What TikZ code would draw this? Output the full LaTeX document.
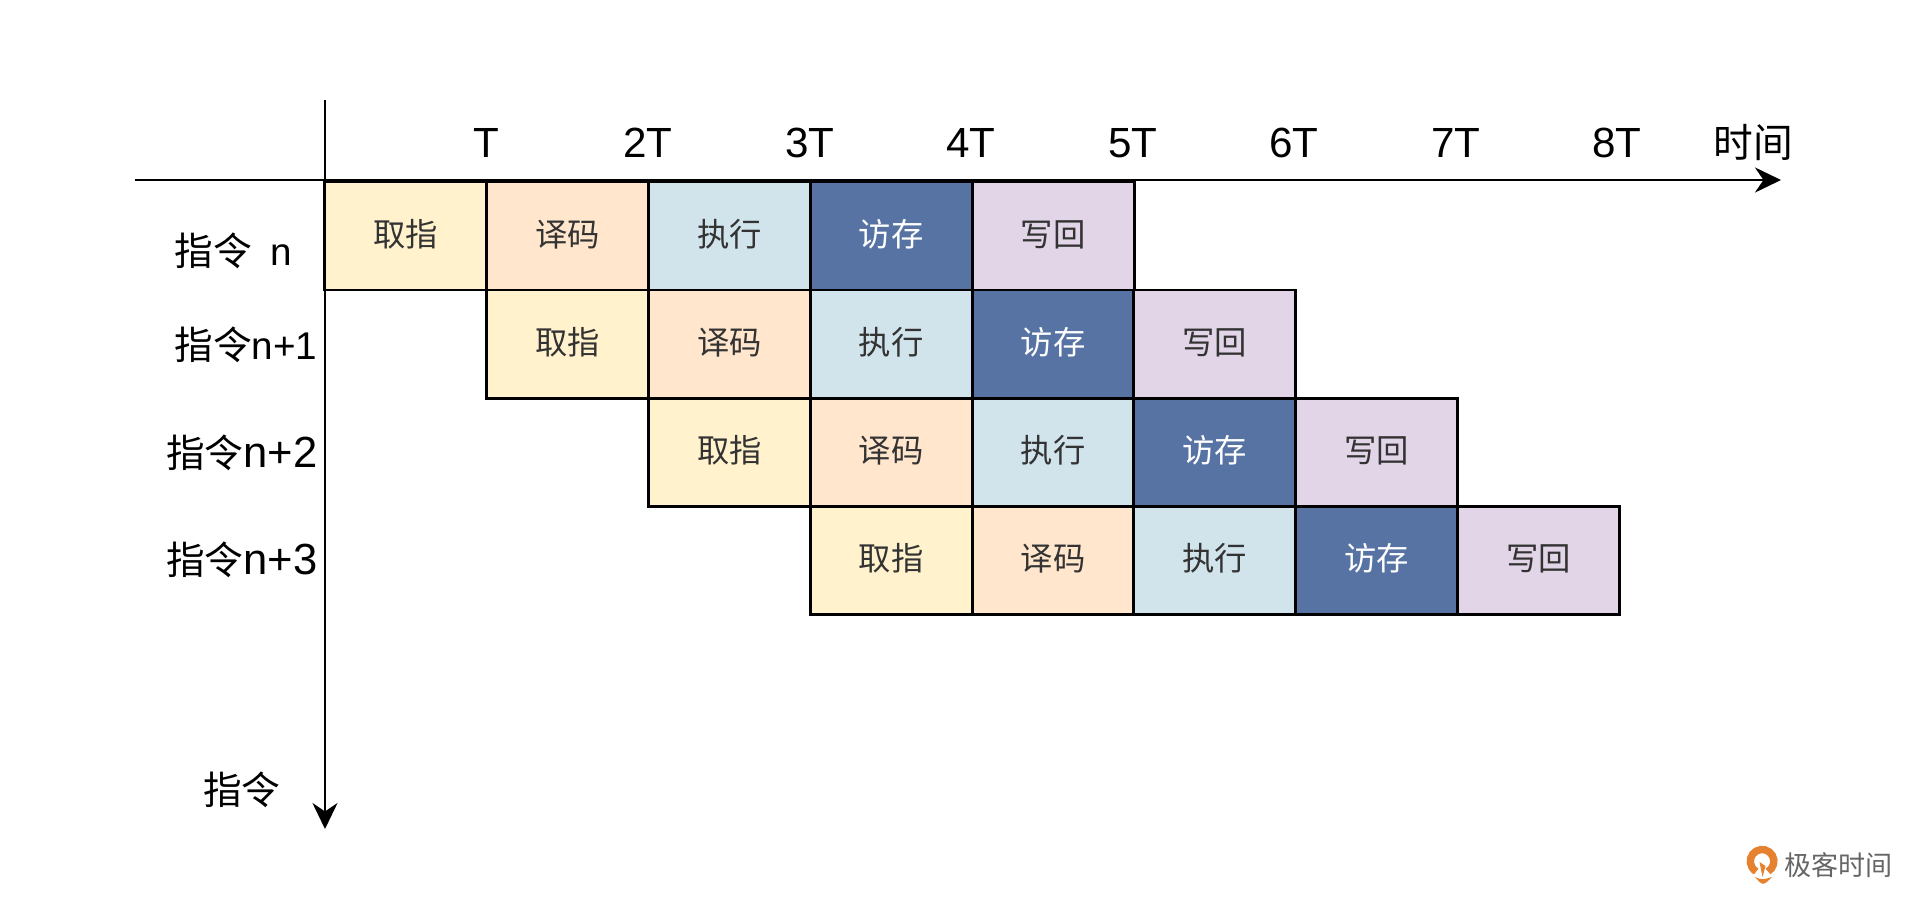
\documentclass[tikz,border=0pt]{standalone}
\usepackage{fontspec}
\setmainfont{Liberation Sans}
\newfontfamily\cjk{Noto Sans CJK SC}
\usetikzlibrary{arrows.meta,calc,positioning}
\definecolor{gkfetch}{HTML}{FFF2CC}
\definecolor{gkdecode}{HTML}{FFE6CC}
\definecolor{gkexec}{HTML}{D1E3EB}
\definecolor{gkmem}{HTML}{5773A3}
\definecolor{gkwrite}{HTML}{E1D5E7}
\definecolor{gkink}{HTML}{333333}
\definecolor{gkorange}{HTML}{E5812F}
\definecolor{gkquiet}{HTML}{666666}
\tikzset{
  every picture/.style={font=\fontsize{11}{13}\selectfont,text=black},
  stage/.style={draw=black,line width=0.85pt,minimum width=1.62cm,minimum height=1.08cm,
    inner sep=0pt,text height=8pt,text depth=2pt,text=gkink,font=\cjk\fontsize{9.2}{10}\selectfont},
  stage0/.style={stage,fill=gkfetch},
  stage1/.style={stage,fill=gkdecode},
  stage2/.style={stage,fill=gkexec},
  stage3/.style={stage,fill=gkmem,text=white},
  stage4/.style={stage,fill=gkwrite},
  axis/.style={draw=black,line width=0.75pt,-{Stealth[length=2.6mm,width=2.5mm]}},
  tick label/.style={inner sep=0pt,font=\fontsize{12}{13}\selectfont},
  row label/.style={inner sep=0pt,font=\cjk\fontsize{11}{13}\selectfont},
}

\begin{document}
\begin{tikzpicture}[x=1cm,y=1cm]
  \path[use as bounding box] (-3.25,-7.25) rectangle (15.95,1.81);
  % axes
  \coordinate (xstart) at (-1.9,0.01);
  \coordinate (xend) at (14.56,0.01);
  \coordinate (ystart) at (0,0.81);
  \coordinate (yend) at (0,-6.48);
  % one row per instruction, each starting one slot later
  \foreach \r in {0,1,2,3} {
    \foreach \s/\stext in {0/取指,1/译码,2/执行,3/访存,4/写回} {
      \pgfmathsetmacro{\cx}{1.618*(\r+\s+0.5)}
      \pgfmathsetmacro{\cy}{-0.01-1.08*(\r+0.5)}
      \node[stage\s] (c\r\s) at (\cx,\cy) {\stext};
    }
  }
  \draw[axis] (xstart) -- (xend);
  \draw[axis] (ystart) -- (yend);
  \foreach \i/\ttext/\tx in {1/T/1.61,2/2T/3.23,3/3T/4.85,4/4T/6.46,5/5T/8.08,6/6T/9.69,7/7T/11.31,8/8T/12.92} {
    \node[tick label] (t\i) at (\tx,0.38) {\ttext};
  }
  \node[row label,font=\cjk\fontsize{11.3}{13}\selectfont] (tlabel) at (14.28,0.38) {时间};
  \node[row label,anchor=west] (r0) at (-1.51,-0.7) {指令\hspace{0.18cm}{\rmfamily n}};
  \node[row label,anchor=east] (r1) at (-0.07,-1.64) {指令{\rmfamily n+1}};
  \node[row label,anchor=east] (r2) at (-0.07,-2.72) {指令{\rmfamily\fontsize{12.4}{13}\selectfont n+2}};
  \node[row label,anchor=east] (r3) at (-0.07,-3.79) {指令{\rmfamily\fontsize{12.4}{13}\selectfont n+3}};
  \node[row label] (ylabel) at (-0.83,-6.09) {指令};
  % logo
  \draw[gkorange,line width=2.1pt] (14.43,-6.905) arc (-60:240:0.118);
  \fill[gkorange] (14.375,-6.96) -- (14.345,-6.81) -- (14.405,-6.85) -- cycle;
  \fill[gkorange] (14.30,-6.96) .. controls (14.37,-6.99) .. (14.47,-6.96) .. controls (14.38,-7.05) .. cycle;
  \node[inner sep=0pt,anchor=west,text=gkquiet,font=\cjk\fontsize{7.7}{9}\selectfont] (logotext) at (14.59,-6.84) {极客时间};
\end{tikzpicture}
\end{document}
